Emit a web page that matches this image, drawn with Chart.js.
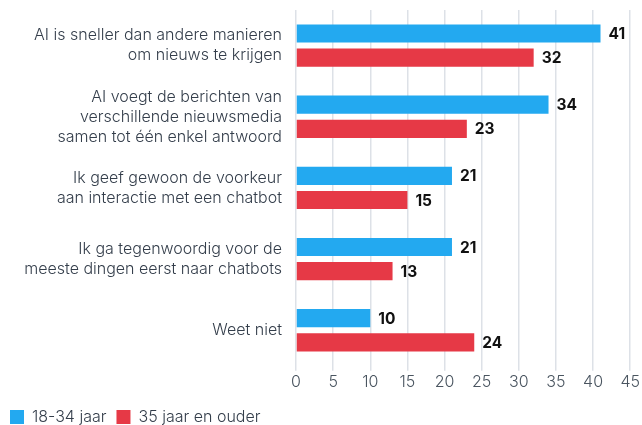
<!DOCTYPE html>
<html>
<head>
<meta charset="utf-8">
<script src="https://cdn.jsdelivr.net/npm/chart.js@4"></script>
<style>
  html, body { margin: 0; padding: 0; background: #fff; }
  #wrap { width: 642px; height: 425px; }
</style>
</head>
<body>
<div id="wrap"><canvas id="chart" width="642" height="425"></canvas></div>
<script>
const categories = [
  ["AI is sneller dan andere manieren", "om nieuws te krijgen"],
  ["AI voegt de berichten van", "verschillende nieuwsmedia", "samen tot één enkel antwoord"],
  ["Ik geef gewoon de voorkeur", "aan interactie met een chatbot"],
  ["Ik ga tegenwoordig voor de", "meeste dingen eerst naar chatbots"],
  ["Weet niet"]
];
const young = [41, 34, 21, 21, 10];
const older = [32, 23, 15, 13, 24];
const seriesNames = ["18-34 jaar", "35 jaar en ouder"];

const FONT = "Inter, 'Noto Sans', sans-serif";

/* VALUE LABELS next to each bar */
const valueLabels = {
  id: "valueLabels",
  afterDatasetsDraw(chart){
    const ctx = chart.ctx;
    ctx.save();
    ctx.font = "bold 15.5px " + FONT;
    ctx.fillStyle = "#111";
    ctx.textBaseline = "middle";
    chart.data.datasets.forEach((ds, i) => {
      chart.getDatasetMeta(i).data.forEach((bar, j) => {
        ctx.fillText(ds.data[j], bar.x + 8, bar.y + 1);
      });
    });
    ctx.restore();
  }
};

new Chart(document.getElementById("chart"), {
  type: "bar",
  data: {
    labels: categories,
    datasets: [
      { label: seriesNames[0], data: young, backgroundColor: "#23a9f0" },
      { label: seriesNames[1], data: older, backgroundColor: "#e63946" }
    ]
  },
  options: {
    indexAxis: "y",
    responsive: false,
    animation: false,
    categoryPercentage: 0.68,
    barPercentage: 0.75,
    layout: { padding: { top: 10, right: 10, left: 0, bottom: -10 } },
    scales: {
      x: {
        min: 0, max: 45,
        afterFit(scale){ scale.height += 5; },
        ticks: { stepSize: 5, color: "#4a5560", font: { family: FONT, size: 16, weight: 300 }, padding: 2 },
        grid: { color: "#dde1e7", lineWidth: 1.5, drawTicks: true, tickLength: 5 },
        border: { display: false }
      },
      y: {
        afterFit(scale){
          scale.width = 296;
          scale.paddingTop = 0;
          scale.paddingBottom = 0;
        },
        ticks: { color: "#333d4a", font: { family: FONT, size: 16, weight: 300, lineHeight: 1.25 }, padding: 6 },
        grid: { display: false },
        border: { display: false }
      }
    },
    plugins: {
      legend: {
        position: "bottom",
        align: "start",
        labels: {
          boxWidth: 14, boxHeight: 14, padding: 10,
          color: "#333d4a",
          font: { family: FONT, size: 16, weight: 300 }
        }
      },
      tooltip: { enabled: false }
    }
  },
  plugins: [valueLabels]
});
</script>
</body>
</html>
